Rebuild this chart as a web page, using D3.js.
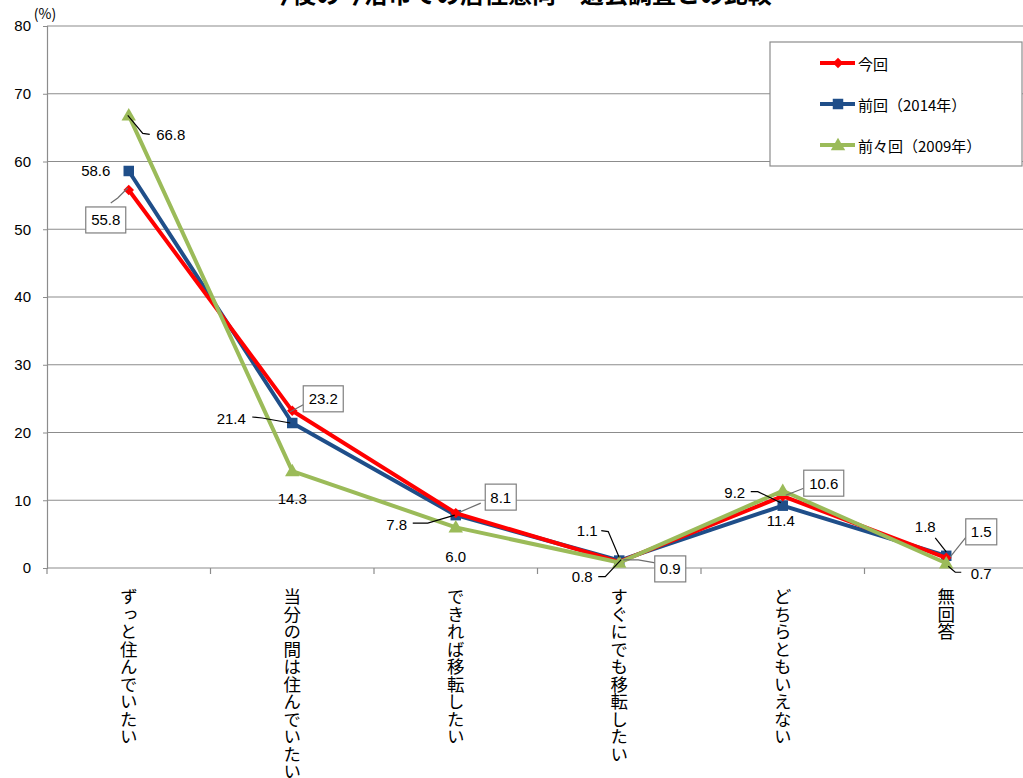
<!DOCTYPE html>
<html>
<head>
<meta charset="utf-8">
<script src="https://cdn.jsdelivr.net/npm/d3@7"></script>
<style>
  html, body { margin: 0; padding: 0; background: #fff; }
  svg { display: block; }
  text { font-family: "Noto Sans CJK JP", "Noto Sans", sans-serif; fill: #000; }
</style>
</head>
<body>
<svg id="chart" width="1023" height="778"></svg>
<script>
// Survey categories (x axis)
const categories = [
  "ずっと住んでいたい",
  "当分の間は住んでいたい",
  "できれば移転したい",
  "すぐにでも移転したい",
  "どちらともいえない",
  "無回答"
];

// Series values (%)
const seriesNames = ["今回", "前回（2014年）", "前々回（2009年）"];
const current   = [55.8, 23.2, 8.1, 0.9, 10.6, 1.5];
const previous  = [58.6, 21.4, 7.8, 1.1, 9.2, 1.8];
const before    = [66.8, 14.3, 6.0, 0.8, 11.4, 0.7];

// Y axis ticks
const yTicks = [0, 10, 20, 30, 40, 50, 60, 70, 80];

// Series styling
const seriesStyle = [
  { color: "#FF0000", marker: "diamond" },
  { color: "#1F4E89", marker: "square" },
  { color: "#9BBB59", marker: "triangle" }
];

// Data-label placement per series and point: text offset from the marker,
// optional box, and leader polyline (relative to the marker)
const labelPlacement = [
  [ // 今回
    { dx: -23, dy: 30, box: true,  leader: [[-18, 13], [-11, 8], [-1, -2]] },
    { dx: 31,  dy: -12, box: true, leader: [[11, -6], [-2, 1]] },
    { dx: 45,  dy: -16, box: true, leader: [[25, -10], [4, -1]] },
    { dx: 51,  dy: 7,  box: true,  leader: [[36, 1], [19, -2], [4, -2]] },
    { dx: 41,  dy: -13, box: true, leader: [[21, -8], [3, -1]] },
    { dx: 35,  dy: -26, box: true, leader: [[20, -21], [4, -1]] }
  ],
  [ // 前回
    { dx: -33, dy: 0 },
    { dx: -61, dy: -5, leader: [[-40, -6], [-30, -5], [-2, 0]] },
    { dx: -59, dy: 9,  leader: [[-43, 8], [-28, 8], [-1, 0]] },
    { dx: -32, dy: -30, leader: [[-18, -30], [-11, -29], [0, -3]] },
    { dx: -48, dy: -13, leader: [[-32, -14], [-25, -14], [-2, -3]] },
    { dx: -21, dy: -29, leader: [[-11, -18], [0, -4]] }
  ],
  [ // 前々回
    { dx: 42, dy: 19, leader: [[-1, 0], [14, 18], [21, 19]] },
    { dx: 0,  dy: 27 },
    { dx: 0,  dy: 29 },
    { dx: -37, dy: 14, leader: [[-21, 14], [-14, 14], [2, -3]] },
    { dx: -2, dy: 30 },
    { dx: 35, dy: 10, leader: [[2, 3], [9, 9], [15, 9]] }
  ]
];

const svg = d3.select("#chart");
const plot = { left: 47, right: 1028, top: 26, bottom: 568 };

const x = d3.scaleBand().domain(categories).range([plot.left, plot.right]).padding(0);
const y = d3.scaleLinear().domain([0, 80]).range([plot.bottom, plot.top]);

// Title, running off the top edge
svg.append("text")
  .attr("x", 520).attr("y", 3)
  .attr("text-anchor", "middle")
  .style("font-size", "24px").style("font-weight", "bold")
  .text("今後の今治市での居住意向　過去調査との比較");

// Horizontal gridlines
svg.append("g").selectAll("line")
  .data(yTicks.filter(d => d > 0))
  .join("line")
  .attr("x1", plot.left).attr("x2", plot.right)
  .attr("y1", d => y(d)).attr("y2", d => y(d))
  .attr("stroke", "#8c8c8c").attr("stroke-width", 1.2);

// Y axis
const yAxis = d3.axisLeft(y).tickValues(yTicks).tickSize(4).tickPadding(12).tickFormat(d3.format("d"));
const gy = svg.append("g").attr("transform", `translate(${plot.left},0)`).call(yAxis);
gy.select(".domain").attr("stroke", "#8c8c8c").attr("stroke-width", 1.2);
gy.selectAll(".tick line").attr("stroke", "#8c8c8c");
gy.selectAll(".tick text").style("font-size", "15px").attr("fill", "#000")
  .style("font-family", "'Liberation Sans', sans-serif");

svg.append("text")
  .attr("x", 45).attr("y", 19)
  .attr("text-anchor", "middle")
  .style("font-size", "14px")
  .text("(%)");

// X axis baseline with ticks on category boundaries
svg.append("line")
  .attr("x1", plot.left).attr("x2", plot.right)
  .attr("y1", plot.bottom).attr("y2", plot.bottom)
  .attr("stroke", "#8c8c8c").attr("stroke-width", 1.2);
svg.append("g").selectAll("line")
  .data(categories)
  .join("line")
  .attr("x1", d => x(d)).attr("x2", d => x(d))
  .attr("y1", plot.bottom).attr("y2", plot.bottom + 6)
  .attr("stroke", "#8c8c8c").attr("stroke-width", 1.2);

// Vertical category labels
svg.append("g").selectAll("text")
  .data(categories)
  .join("text")
  .attr("x", d => x(d) + x.bandwidth() / 2)
  .attr("y", 588)
  .style("writing-mode", "vertical-rl")
  .style("text-orientation", "upright")
  .style("font-size", "17.5px")
  .attr("text-anchor", "start")
  .text(d => d);

// Marker shapes
function markerPath(shape) {
  if (shape === "diamond") return d3.symbol(d3.symbolDiamond2, 70)();
  if (shape === "square") return d3.symbol(d3.symbolSquare, 110)();
  return d3.symbol(d3.symbolTriangle, 90)();
}

const allSeries = [current, previous, before];
const line = d3.line()
  .x((d, i) => x(categories[i]) + x.bandwidth() / 2)
  .y(d => y(d));

// Draw series: blue, red, then green on top
const drawOrder = [1, 0, 2];
drawOrder.forEach(si => {
  const vals = allSeries[si];
  const st = seriesStyle[si];
  const g = svg.append("g");
  g.append("path")
    .datum(vals)
    .attr("d", line)
    .attr("fill", "none")
    .attr("stroke", st.color)
    .attr("stroke-width", 4)
    .attr("stroke-linejoin", "round");
  g.selectAll("path.m")
    .data(vals)
    .join("path")
    .attr("class", "m")
    .attr("transform", (d, i) => `translate(${x(categories[i]) + x.bandwidth() / 2},${y(d) + (st.marker === "triangle" ? 1 : 0)})`)
    .attr("d", markerPath(st.marker))
    .attr("fill", st.color);
});

// Data labels
const labelLayer = svg.append("g");
allSeries.forEach((vals, si) => {
  vals.forEach((v, i) => {
    const p = labelPlacement[si][i];
    const mx = x(categories[i]) + x.bandwidth() / 2;
    const my = y(v);
    const tx = mx + p.dx, ty = my + p.dy;
    if (p.leader) {
      labelLayer.append("polyline")
        .attr("points", p.leader.map(q => `${mx + q[0]},${my + q[1]}`).join(" "))
        .attr("fill", "none")
        .attr("stroke", p.box ? "#6e6e6e" : "#000")
        .attr("stroke-width", 1.2);
    }
    if (p.box) {
      const label = v.toFixed(1);
      const bw = label.length > 3 ? 40 : 31;
      labelLayer.append("rect")
        .attr("x", tx - bw / 2).attr("y", ty - 13)
        .attr("width", bw).attr("height", 26)
        .attr("fill", "#fff")
        .attr("stroke", "#7f7f7f").attr("stroke-width", 1.2);
    }
    labelLayer.append("text")
      .attr("x", tx).attr("y", ty)
      .attr("text-anchor", "middle")
      .attr("dominant-baseline", "central")
      .style("font-size", "15px")
      .style("font-family", "'Liberation Sans', sans-serif")
      .text(v.toFixed(1));
  });
});

// Legend
const legend = svg.append("g");
legend.append("rect")
  .attr("x", 770).attr("y", 42)
  .attr("width", 252).attr("height", 124)
  .attr("fill", "#fff")
  .attr("stroke", "#8c8c8c").attr("stroke-width", 1.2);
const legendRows = [63, 104, 145];
seriesNames.forEach((name, si) => {
  const ly = legendRows[si];
  const st = seriesStyle[si];
  legend.append("line")
    .attr("x1", 820).attr("x2", 855)
    .attr("y1", ly).attr("y2", ly)
    .attr("stroke", st.color).attr("stroke-width", 4);
  legend.append("path")
    .attr("transform", `translate(838,${ly + (st.marker === "triangle" ? 1 : 0)})`)
    .attr("d", markerPath(st.marker))
    .attr("fill", st.color);
  legend.append("text")
    .attr("x", 858).attr("y", ly)
    .attr("dominant-baseline", "central")
    .style("font-size", "15px")
    .text(name);
});
</script>
</body>
</html>
